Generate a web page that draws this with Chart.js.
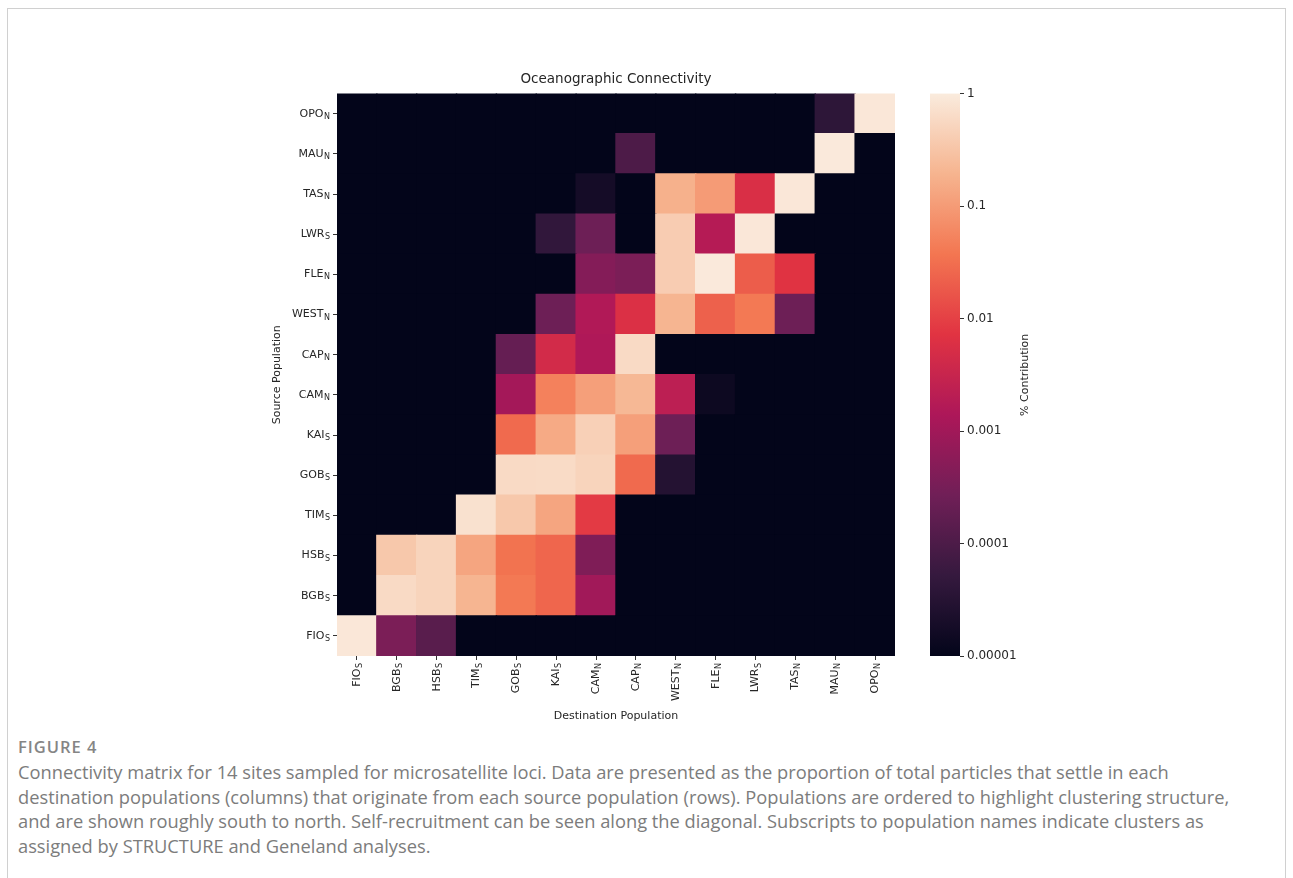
<!DOCTYPE html>
<html>
<head>
<meta charset="utf-8">
<script src="https://cdn.jsdelivr.net/npm/chart.js@4.4.1/dist/chart.umd.min.js"></script>
<style>
    body { margin: 0; background: #fff; font-family: 'Open Sans', sans-serif; }
    #card { position: absolute; left: 7px; top: 8px; width: 1277px; height: 900px; border: 1px solid #d0d0d0; }
    #heat-wrap { position: absolute; left: 266px; top: 60px; width: 629px; height: 665px; }
    #cb-wrap { position: absolute; left: 925px; top: 60px; width: 140px; height: 665px; }
    #fig-label { position: absolute; left: 18px; top: 735px; font-size: 16.5px; font-weight: 600; letter-spacing: 1px; color: #858585; }
    #caption { position: absolute; left: 18px; top: 760px; font-size: 18.3px; line-height: 24.5px; color: #7c7c7c; white-space: nowrap; }
</style>
</head>
<body>
<div id="card"></div>
<div id="heat-wrap"><canvas id="heatmap" width="629" height="665"></canvas></div>
<div id="cb-wrap"><canvas id="colorbar" width="140" height="665"></canvas></div>
<div id="fig-label">FIGURE 4</div>
<div id="caption">Connectivity matrix for 14 sites sampled for microsatellite loci. Data are presented as the proportion of total particles that settle in each<br>destination populations (columns) that originate from each source population (rows). Populations are ordered to highlight clustering structure,<br>and are shown roughly south to north. Self-recruitment can be seen along the diagonal. Subscripts to population names indicate clusters as<br>assigned by STRUCTURE and Geneland analyses.</div>

<script>
// destination populations (columns, left to right)
const destNames = ['FIO', 'BGB', 'HSB', 'TIM', 'GOB', 'KAI', 'CAM', 'CAP', 'WEST', 'FLE', 'LWR', 'TAS', 'MAU', 'OPO'];
const destSubs  = ['S',   'S',   'S',   'S',   'S',   'S',   'N',   'N',   'N',    'N',   'S',   'N',   'N',   'N'];

// source populations (rows, top to bottom)
const sourceNames = ['OPO', 'MAU', 'TAS', 'LWR', 'FLE', 'WEST', 'CAP', 'CAM', 'KAI', 'GOB', 'TIM', 'HSB', 'BGB', 'FIO'];
const sourceSubs  = ['N',   'N',   'N',   'S',   'N',   'N',    'N',   'N',   'S',   'S',   'S',   'S',   'S',   'S'];

// proportion of particles, one row per source (top to bottom), columns as destNames
const rowOPO  = [0, 0, 0, 0, 0, 0, 0, 0, 0, 0, 0, 0, 4e-5, 0.9];
const rowMAU  = [0, 0, 0, 0, 0, 0, 0, 1e-4, 0, 0, 0, 0, 0.95, 0];
const rowTAS  = [0, 0, 0, 0, 0, 0, 1.8e-5, 0, 0.18, 0.1, 5.6e-3, 0.9, 0, 0];
const rowLWR  = [0, 0, 0, 0, 0, 4.5e-5, 2.5e-4, 0, 0.4, 1.8e-3, 0.9, 0, 0, 0];
const rowFLE  = [0, 0, 0, 0, 0, 0, 4.6e-4, 3.6e-4, 0.4, 0.95, 0.02, 7e-3, 0, 0];
const rowWEST = [0, 0, 0, 0, 0, 2.5e-4, 1.6e-3, 6e-3, 0.2, 0.022, 0.04, 2.5e-4, 0, 0];
const rowCAP  = [0, 0, 0, 0, 2e-4, 4.5e-3, 1.5e-3, 0.6, 0, 0, 0, 0, 0, 0];
const rowCAM  = [0, 0, 0, 0, 1.1e-3, 0.05, 0.11, 0.22, 2.2e-3, 1.4e-5, 0, 0, 0, 0];
const rowKAI  = [0, 0, 0, 0, 0.028, 0.15, 0.45, 0.11, 2.5e-4, 0, 0, 0, 0, 0];
const rowGOB  = [0, 0, 0, 0, 0.6, 0.62, 0.5, 0.028, 3e-5, 0, 0, 0, 0, 0];
const rowTIM  = [0, 0, 0, 0.75, 0.35, 0.13, 8.5e-3, 0, 0, 0, 0, 0, 0, 0];
const rowHSB  = [0, 0.35, 0.5, 0.13, 0.035, 0.025, 4e-4, 0, 0, 0, 0, 0, 0, 0];
const rowBGB  = [0, 0.6, 0.5, 0.2, 0.04, 0.025, 1e-3, 0, 0, 0, 0, 0, 0, 0];
const rowFIO  = [0.9, 3.6e-4, 1.4e-4, 0, 0, 0, 0, 0, 0, 0, 0, 0, 0, 0];

const matrix = [rowOPO, rowMAU, rowTAS, rowLWR, rowFLE, rowWEST, rowCAP, rowCAM, rowKAI, rowGOB, rowTIM, rowHSB, rowBGB, rowFIO];

// colorbar ticks
const cbTicks = [1e-5, 1e-4, 1e-3, 1e-2, 1e-1, 1];
const cbTickLabels = ['0.00001', '0.0001', '0.001', '0.01', '0.1', '1'];

const vMin = 1e-5, vMax = 1;

// seaborn "rocket" anchors
const rocketStops = ['#03051a', '#35193e', '#701f57', '#ad1759', '#e13342', '#f37651', '#f6b48f', '#faebdd'];

function hexToRgb(h) {
    return [parseInt(h.slice(1, 3), 16), parseInt(h.slice(3, 5), 16), parseInt(h.slice(5, 7), 16)];
}

function rocket(t) {
    t = Math.max(0, Math.min(1, t));
    const n = rocketStops.length - 1;
    const i = Math.min(n - 1, Math.floor(t * n));
    const f = t * n - i;
    const a = hexToRgb(rocketStops[i]), b = hexToRgb(rocketStops[i + 1]);
    const c = a.map((v, k) => Math.round(v + (b[k] - v) * f));
    return `rgb(${c[0]},${c[1]},${c[2]})`;
}

function colorFor(v) {
    if (v <= vMin) return rocket(0);
    const t = (Math.log10(v) - Math.log10(vMin)) / (Math.log10(vMax) - Math.log10(vMin));
    return rocket(t);
}

Chart.defaults.font.family = 'DejaVu Sans';
Chart.defaults.color = '#262626';

const textColor = '#262626';

// one stacked bar segment per cell, bottom row (FIO) first
const datasets = matrix.slice().reverse().map((row, i) => ({
    label: sourceNames[sourceNames.length - 1 - i],
    data: row.map(() => 1),
    backgroundColor: row.map(v => colorFor(v)),
    borderWidth: 0,
    inflateAmount: 0.7,
    barPercentage: 1.0,
    categoryPercentage: 1.0
}));

function drawLabel(ctx, name, sub, x, y) {
    ctx.font = '8px "DejaVu Sans"';
    const sw = ctx.measureText(sub).width;
    ctx.textAlign = 'right';
    ctx.fillText(sub, x, y + 3);
    ctx.font = '11px "DejaVu Sans"';
    ctx.fillText(name, x - sw - 0.5, y);
}

const heatLabels = {
    id: 'heatLabels',
    afterDraw(chart) {
        const { ctx, scales: { x, y } } = chart;
        ctx.save();
        ctx.fillStyle = textColor;
        ctx.textBaseline = 'middle';

        sourceNames.forEach((name, i) => {
            const py = y.getPixelForValue(sourceNames.length - 1 - i + 0.5);
            drawLabel(ctx, name, sourceSubs[i], x.left - 7, py);
        });

        destNames.forEach((name, j) => {
            const px = x.getPixelForValue(j);
            ctx.save();
            ctx.translate(px, y.bottom + 7);
            ctx.rotate(-Math.PI / 2);
            drawLabel(ctx, name, destSubs[j], 0, 0);
            ctx.restore();
        });
        ctx.restore();
    }
};

new Chart(document.getElementById('heatmap'), {
    type: 'bar',
    data: { labels: destNames, datasets: datasets },
    options: {
        responsive: false,
        animation: false,
        layout: { padding: 0 },
        plugins: {
            legend: { display: false },
            tooltip: { enabled: false },
            title: {
                display: true,
                fullSize: false,
                text: 'Oceanographic Connectivity',
                color: textColor,
                font: { size: 13.5, weight: 'normal' },
                padding: { top: 11, bottom: 6.4 }
            }
        },
        scales: {
            x: {
                stacked: true,
                ticks: { display: false },
                grid: { offset: false, drawOnChartArea: false, tickLength: 4, color: '#333' },
                border: { display: false },
                afterFit: s => { s.height = 69; },
                title: { display: true, text: 'Destination Population', color: textColor, font: { size: 11 }, padding: { top: 0, bottom: 2 } }
            },
            y: {
                stacked: true,
                min: 0,
                max: 14,
                afterBuildTicks: s => { s.ticks = sourceNames.map((_, i) => ({ value: i + 0.5 })); },
                ticks: { display: false },
                grid: { drawOnChartArea: false, tickLength: 4, color: '#333' },
                border: { display: false },
                afterFit: s => { s.width = 71; },
                title: { display: true, text: 'Source Population', color: textColor, font: { size: 11 }, padding: { top: 5, bottom: 5 } }
            }
        }
    },
    plugins: [heatLabels]
});

const cbFill = {
    id: 'cbFill',
    beforeDatasetsDraw(chart) {
        const { ctx, chartArea: a } = chart;
        const g = ctx.createLinearGradient(0, a.bottom, 0, a.top);
        rocketStops.forEach((c, i) => g.addColorStop(i / (rocketStops.length - 1), c));
        ctx.save();
        ctx.fillStyle = g;
        ctx.fillRect(a.left, a.top, a.right - a.left, a.bottom - a.top);
        ctx.restore();
    },
    afterDraw(chart) {
        const { ctx, chartArea: a } = chart;
        ctx.save();
        ctx.fillStyle = textColor;
        ctx.font = '11px "DejaVu Sans"';
        ctx.textAlign = 'center';
        ctx.textBaseline = 'middle';
        ctx.translate(100, (a.top + a.bottom) / 2);
        ctx.rotate(-Math.PI / 2);
        ctx.fillText('% Contribution', 0, 0);
        ctx.restore();
    }
};

new Chart(document.getElementById('colorbar'), {
    type: 'bar',
    data: { labels: [''], datasets: [{ data: [] }] },
    options: {
        responsive: false,
        animation: false,
        layout: { padding: { top: 33.6, bottom: 69, left: 5, right: 0 } },
        plugins: { legend: { display: false }, tooltip: { enabled: false } },
        scales: {
            x: { display: false },
            y: {
                type: 'logarithmic',
                position: 'right',
                min: vMin,
                max: vMax,
                afterBuildTicks: s => { s.ticks = cbTicks.map(v => ({ value: v })); },
                afterFit: s => { s.width = 105; },
                ticks: { callback: (v, i) => cbTickLabels[i], color: textColor, font: { size: 12 }, padding: 3 },
                grid: { drawOnChartArea: false, tickLength: 4, color: '#333' },
                border: { display: false }
            }
        }
    },
    plugins: [cbFill]
});
</script>
</body>
</html>
